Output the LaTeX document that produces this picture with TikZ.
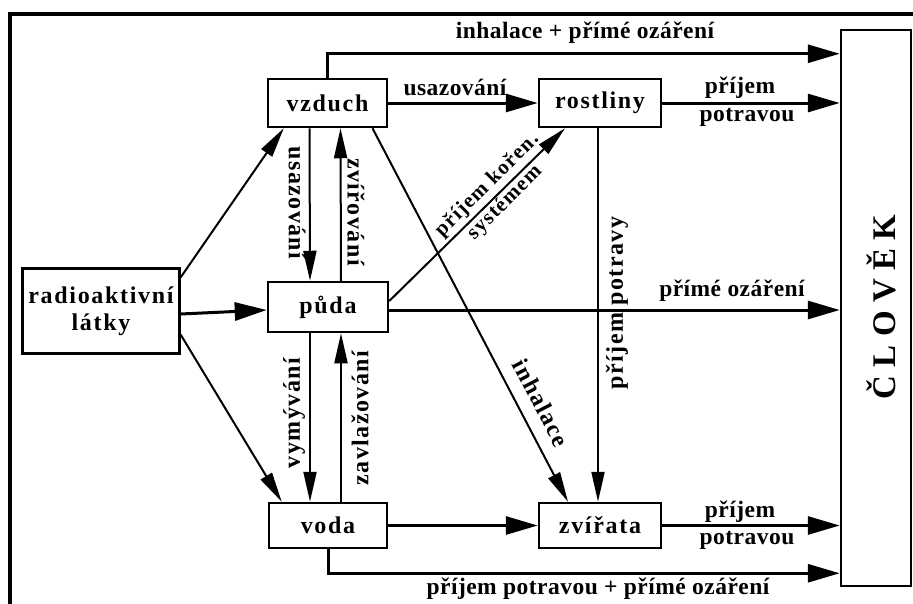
\documentclass[tikz,border=0pt]{standalone}
\usepackage{fontspec}
\setmainfont{Liberation Serif}
\newfontfamily\boxfont{Liberation Serif}[LetterSpace=7]
\newfontfamily\vertfont{Liberation Serif}[LetterSpace=6]
\newfontfamily\horfont{Liberation Serif}[LetterSpace=2]
\usetikzlibrary{arrows.meta,calc}
\begin{document}
\begin{tikzpicture}[x=1pt,y=-1pt,
  box/.style={draw,line width=2.5pt,font=\boxfont\fontsize{24}{26}\selectfont\bfseries,inner sep=0pt},
  lbl/.style={font=\horfont\fontsize{23.5}{24}\selectfont\bfseries,inner sep=0pt,align=center},
  vlbl/.style={font=\vertfont\fontsize{24}{25}\selectfont\bfseries,inner sep=0pt,align=center},
  big/.style={-{Triangle[length=32pt,width=18pt]},line width=3pt},
  thinarr/.style={-{Triangle[length=30pt,width=13pt]},line width=2pt}]
\useasboundingbox (0,0) rectangle (913,603);
% frame
\draw[line width=4pt] (10,640) -- (10,14) -- (950,14);
% nodes
\node[box,minimum width=157pt,minimum height=85pt,align=center] (radio) at (101,311) {radioaktivní\\[1pt]látky};
\node[box,minimum width=119pt,minimum height=48pt] (vzduch) at (327.5,103) {vzduch};
\node[box,minimum width=122pt,minimum height=48pt] (rostliny) at (600,103) {rostliny};
\node[box,minimum width=120pt,minimum height=50pt] (puda) at (328,307) {půda};
\node[box,minimum width=118pt,minimum height=45pt] (voda) at (328,525.5) {voda};
\node[box,minimum width=122pt,minimum height=45pt] (zvirata) at (600,525.5) {zvířata};
\node[draw,line width=2.5pt,minimum width=70pt,minimum height=556pt,inner sep=0pt] (clovek) at (876,308) {};
\node[rotate=90,inner sep=0pt,font=\fontsize{33}{34}\selectfont\bfseries] (clovektext) at (881,307) {Č L O V Ě K};
% arrows
\draw[big] (vzduch.north) |- ([yshift=-25pt]clovek.north west);
\draw[big] (vzduch.east) -- (rostliny.west);
\draw[big] (rostliny.east) -- (rostliny.east -| clovek.west);
\draw[big] ([yshift=-3pt]radio.east) -- ([yshift=-3pt]puda.west);
\draw[big] ([yshift=-3pt]puda.east) -- ([yshift=-3pt]puda.east -| clovek.west);
\draw[big] (voda.east) -- (zvirata.west);
\draw[big] (zvirata.east) -- (zvirata.east -| clovek.west);
\draw[big] (voda.south) |- ([yshift=14pt]clovek.south west);
\draw[thinarr] ([yshift=-10pt]radio.north east) -- ([xshift=17pt]vzduch.south west);
\draw[thinarr] ([yshift=20pt]radio.south east) -- ([xshift=14pt]voda.north west);
\draw[thinarr] ([xshift=-18pt]vzduch.south) -- ([xshift=-18pt]puda.north);
\draw[thinarr] ([xshift=13pt]puda.north) -- ([xshift=13pt]vzduch.south);
\draw[thinarr] ([xshift=-18pt]puda.south) -- ([xshift=-18pt]voda.north);
\draw[thinarr] ([xshift=13pt]voda.north) -- ([xshift=13pt]puda.south);
\draw[thinarr] ([xshift=45pt]vzduch.south) -- ([xshift=-32pt]zvirata.north);
\draw[thinarr] ([yshift=6pt]puda.east) -- ([xshift=-35pt]rostliny.south);
\draw[thinarr] ([xshift=-2pt]rostliny.south) -- ([xshift=-2pt]zvirata.north);
% labels
\node[lbl] (l1) at (585,33) {inhalace + přímé ozáření};
\node[lbl] (l2) at (455,87) {usazování};
\node[lbl] (l3) at (740,88) {příjem};
\node[lbl] (l4) at (747,117) {potravou};
\node[lbl] (l5) at (732,291) {přímé ozáření};
\node[lbl] (l6) at (740,512) {příjem};
\node[lbl] (l7) at (747,540) {potravou};
\node[lbl] (l8) at (598,589) {příjem potravou + přímé ozáření};
\node[vlbl,rotate=90] (l9) at (617,303) {příjem potravy};
\node[vlbl,rotate=-90] (l10) at (297,203) {usazování};
\node[vlbl,rotate=-90] (l11) at (356,212) {zvířování};
\node[vlbl,rotate=90] (l12) at (294,413) {vymývání};
\node[vlbl,rotate=90] (l13) at (360,418) {zavlažování};
\node[vlbl,rotate=-62.6] (l14) at (541,403) {inhalace};
\node[vlbl,rotate=45,font=\vertfont\fontsize{21}{25}\selectfont\bfseries] (l15) at (496,194) {příjem kořen.\\systémem};
\end{tikzpicture}
\end{document}
